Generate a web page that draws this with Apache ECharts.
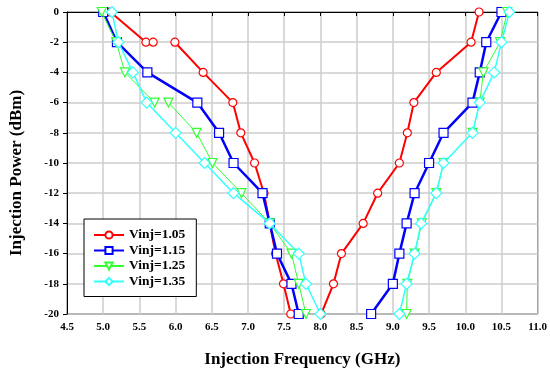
<!DOCTYPE html>
<html>
<head>
<meta charset="utf-8">
<script src="https://cdn.jsdelivr.net/npm/echarts@6/dist/echarts.min.js"></script>
<style>html,body{margin:0;padding:0;background:#fff;}#c{width:550px;height:373px;}</style>
</head>
<body>
<div id="c"></div>
<script>
// ---- data (null = gap in line) ----
const seriesNames = ["Vinj=1.05", "Vinj=1.15", "Vinj=1.25", "Vinj=1.35"];
const xTicksMin = 4.5, xTicksMax = 11.0, xStep = 0.5;
const yTicksMin = -20, yTicksMax = 0, yStep = 2;

// Vinj=1.05
const redLeftF  = [5.10, 5.59, 5.69, null, 5.99, 6.38, 6.79, 6.90, 7.09, 7.22, 7.30, 7.38, 7.49, 7.59];
const redLeftP  = [0,    -2,   -2,   null, -2,   -4,   -6,   -8,   -10,  -12,  -14,  -16,  -18,  -20];
const redRightF = [8.01, 8.18, 8.29, 8.59, 8.79, 9.09, 9.20, 9.29, 9.60, 10.08, 10.19];
const redRightP = [-20,  -18,  -16,  -14,  -12,  -10,  -8,   -6,   -4,   -2,    0];

// Vinj=1.15
const blueLeftF  = [5.00, 5.19, 5.61, 6.30, 6.60, 6.80, 7.20, 7.30, 7.40, 7.60, 7.70];
const blueLeftP  = [0,    -2,   -4,   -6,   -8,   -10,  -12,  -14,  -16,  -18,  -20];
const blueRightF = [8.70, 9.00, 9.09, 9.19, 9.30, 9.50, 9.70, 10.10, 10.20, 10.29, 10.50];
const blueRightP = [-20,  -18,  -16,  -14,  -12,  -10,  -8,   -6,    -4,    -2,    0];

// Vinj=1.25
const greenLeftF  = [4.98, 5.18, 5.30, 5.71, null, 5.90, 6.29, 6.51, 6.91, 7.30, 7.60, 7.70, 7.80];
const greenLeftP  = [0,    -2,   -4,   -6,   null, -6,   -8,   -10,  -12,  -14,  -16,  -18,  -20];
const greenRightF = [9.19, 9.20, 9.30, 9.40, 9.60, 9.70, 10.10, 10.20, 10.25, 10.48, 10.58];
const greenRightP = [-20,  -18,  -16,  -14,  -12,  -10,  -8,    -6,    -4,    -2,    0];

// Vinj=1.35
const cyanLeftF  = [5.12, 5.21, 5.41, 5.60, 6.00, 6.40, 6.80, 7.30, 7.70, 7.80, 8.00];
const cyanLeftP  = [0,    -2,   -4,   -6,   -8,   -10,  -12,  -14,  -16,  -18,  -20];
const cyanRightF = [9.09, 9.19, 9.30, 9.39, 9.60, 9.70, 10.10, 10.20, 10.40, 10.50, 10.61];
const cyanRightP = [-20,  -18,  -16,  -14,  -12,  -10,  -8,    -6,    -4,    -2,    0];

// ---- build ----
function pairs(f, p) {
  return f.map((v, i) => (v === null || p[i] === null) ? ['-', '-'] : [v, p[i]]);
}
const styles = [
  {color: '#ff0000', symbol: 'circle',   size: 8,  width: 2,   rotate: 0},
  {color: '#0000ff', symbol: 'rect',     size: 9,  width: 2.5, rotate: 0},
  {color: '#33ff33', symbol: 'triangle', size: 9,  width: 1,   rotate: 180},
  {color: '#33ffff', symbol: 'diamond',  size: 11, width: 1.5, rotate: 0}
];
const groups = [
  [redLeftF, redLeftP, redRightF, redRightP],
  [blueLeftF, blueLeftP, blueRightF, blueRightP],
  [greenLeftF, greenLeftP, greenRightF, greenRightP],
  [cyanLeftF, cyanLeftP, cyanRightF, cyanRightP]
];
const series = [];
groups.forEach((g, i) => {
  const s = styles[i];
  [[g[0], g[1]], [g[2], g[3]]].forEach(([f, p]) => {
    series.push({
      name: seriesNames[i],
      type: 'line',
      data: pairs(f, p),
      connectNulls: false,
      symbol: s.symbol,
      symbolSize: s.size,
      symbolRotate: s.rotate,
      showAllSymbol: true,
      lineStyle: {color: s.color, width: s.width},
      itemStyle: {color: '#ffffff', borderColor: s.color, borderWidth: 1.2},
      emphasis: {disabled: true},
      animation: false,
      z: 2 + i
    });
  });
});

const font = '"Liberation Serif", "Times New Roman", serif';
const chart = echarts.init(document.getElementById('c'), null, {renderer: 'canvas'});
chart.setOption({
  animation: false,
  backgroundColor: '#ffffff',
  grid: {left: 67, right: 12, top: 12, bottom: 59, show: true, borderColor: '#000', borderWidth: 1, backgroundColor: 'transparent'},
  legend: {
    data: seriesNames.map(n => ({name: n})),
    orient: 'vertical',
    left: 84, top: 219,
    backgroundColor: '#ffffff',
    borderColor: '#000000',
    borderWidth: 1,
    padding: [9, 11, 8, 9],
    itemGap: 1.5,
    itemWidth: 30,
    itemHeight: 9,
    textStyle: {fontFamily: font, fontWeight: 'bold', fontSize: 13.5, color: '#000', lineHeight: 13},
    selectedMode: false
  },
  xAxis: {
    type: 'value', min: xTicksMin, max: xTicksMax, interval: xStep,
    name: 'Injection Frequency (GHz)', nameLocation: 'middle', nameGap: 37,
    nameTextStyle: {fontFamily: font, fontWeight: 'bold', fontSize: 17, color: '#000'},
    axisLine: {lineStyle: {color: '#000', width: 1}},
    axisTick: {show: true, inside: false, length: 4, lineStyle: {color: '#000'}},
    axisLabel: {fontFamily: font, fontWeight: 'bold', fontSize: 11, color: '#000', margin: 8,
      formatter: v => v.toFixed(1)},
    splitLine: {show: true, lineStyle: {color: '#cccccc', width: 1.5}}
  },
  yAxis: {
    type: 'value', min: yTicksMin, max: yTicksMax, interval: yStep,
    name: 'Injection Power (dBm)', nameLocation: 'middle', nameGap: 42, nameRotate: 90,
    nameTextStyle: {fontFamily: font, fontWeight: 'bold', fontSize: 17, color: '#000', padding: [0, 20, 0, 0]},
    axisLine: {show: true, lineStyle: {color: '#000', width: 1}},
    axisTick: {show: true, inside: false, length: 4, lineStyle: {color: '#000'}},
    axisLabel: {fontFamily: font, fontWeight: 'bold', fontSize: 11, color: '#000', margin: 8},
    splitLine: {show: true, lineStyle: {color: '#cccccc', width: 1.5}}
  },
  series: series
});
</script>
</body>
</html>
